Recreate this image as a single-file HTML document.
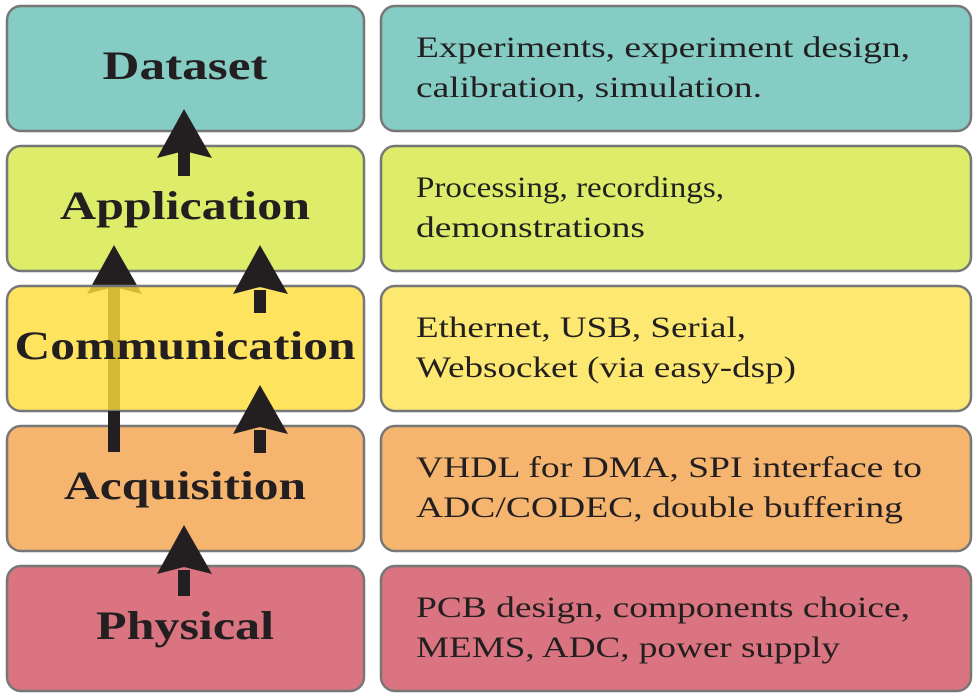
<!DOCTYPE html>
<html><head><meta charset="utf-8"><style>html,body{margin:0;padding:0;background:#fff}svg{display:block}</style></head>
<body>
<svg width="978" height="699" viewBox="0 0 978 699" xmlns="http://www.w3.org/2000/svg">
<g stroke="#777" stroke-width="2.5">
<rect x="7" y="6" width="357" height="125" rx="14" fill="#85cdc4"/>
<rect x="7" y="146" width="357" height="125" rx="14" fill="#dded6a"/>
</g>
<g fill="#231f20">
<rect x="108" y="285" width="12" height="167"/>
<polygon points="114,245 142,294 114,287 87,294"/>
</g>
<g stroke="#777" stroke-width="2.5">
<rect x="7" y="286" width="357" height="125" rx="14" fill="#fedd3c" fill-opacity="0.82"/>
<rect x="7" y="426" width="357" height="125" rx="14" fill="#f6b56f"/>
<rect x="7" y="566" width="357" height="125" rx="14" fill="#d97480"/>
<rect x="381" y="6" width="590" height="125" rx="14" fill="#85cdc4"/>
<rect x="381" y="146" width="590" height="125" rx="14" fill="#dded6a"/>
<rect x="381" y="286" width="590" height="125" rx="14" fill="#fde871"/>
<rect x="381" y="426" width="590" height="125" rx="14" fill="#f6b56f"/>
<rect x="381" y="566" width="590" height="125" rx="14" fill="#d97480"/>
</g>
<g fill="#231f20">
<rect x="108" y="411" width="12" height="41"/>
<rect x="178" y="150" width="12" height="26"/>
<polygon points="184,109 212,158 184,151 157,158"/>
<rect x="254" y="290" width="12" height="23"/>
<polygon points="260,245 288,294 260,287 233,294"/>
<rect x="254" y="430" width="12" height="23"/>
<polygon points="260,385 288,434 260,427 233,434"/>
<rect x="178" y="570" width="12" height="26"/>
<polygon points="184,525 212,574 184,567 157,574"/>
</g>
<g font-family="Liberation Serif, serif" font-weight="bold" font-size="40" fill="#231f20" text-anchor="middle">
<text x="185" y="79" textLength="165" lengthAdjust="spacingAndGlyphs">Dataset</text>
<text x="185" y="219" textLength="250" lengthAdjust="spacingAndGlyphs">Application</text>
<text x="185" y="359" textLength="341" lengthAdjust="spacingAndGlyphs">Communication</text>
<text x="185" y="499" textLength="242" lengthAdjust="spacingAndGlyphs">Acquisition</text>
<text x="185" y="639" textLength="178" lengthAdjust="spacingAndGlyphs">Physical</text>
</g>
<g font-family="Liberation Serif, serif" font-size="30" fill="#231f20">
<text x="416" y="57" textLength="494" lengthAdjust="spacingAndGlyphs">Experiments, experiment design,</text>
<text x="416" y="97" textLength="346" lengthAdjust="spacingAndGlyphs">calibration, simulation.</text>
<text x="416" y="197" textLength="308" lengthAdjust="spacingAndGlyphs">Processing, recordings,</text>
<text x="416" y="237" textLength="229" lengthAdjust="spacingAndGlyphs">demonstrations</text>
<text x="416" y="337" textLength="330" lengthAdjust="spacingAndGlyphs">Ethernet, USB, Serial,</text>
<text x="416" y="377" textLength="380" lengthAdjust="spacingAndGlyphs">Websocket (via easy-dsp)</text>
<text x="416" y="477" textLength="506" lengthAdjust="spacingAndGlyphs">VHDL for DMA, SPI interface to</text>
<text x="416" y="517" textLength="487" lengthAdjust="spacingAndGlyphs">ADC/CODEC, double buffering</text>
<text x="416" y="617" textLength="494" lengthAdjust="spacingAndGlyphs">PCB design, components choice,</text>
<text x="416" y="657" textLength="424" lengthAdjust="spacingAndGlyphs">MEMS, ADC, power supply</text>
</g>
</svg>
</body></html>
